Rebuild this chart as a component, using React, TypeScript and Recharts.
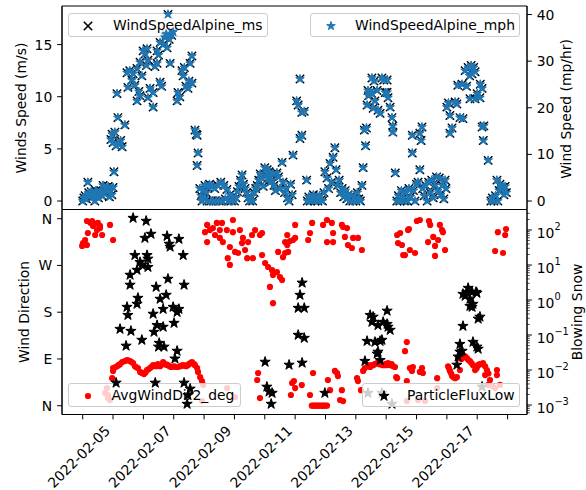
import React from 'react';
import { ScatterChart, Scatter, XAxis, YAxis, ReferenceArea } from 'recharts';

const FONT = "'DejaVu Sans', sans-serif";
const FS = 13.9;
const W = 586;
const H = 490;

// ---------- axes / ticks ----------
const xDomain: [number, number] = [3.318, 18.64];
const dayTicks = [4, 5, 6, 7, 8, 9, 10, 11, 12, 13, 14, 15, 16, 17, 18];
const labeledDays = [5, 7, 9, 11, 13, 15, 17];
const MS_TO_MPH = 2.23694;
const msDomain: [number, number] = [-0.815, 18.7];
const mphDomain: [number, number] = [msDomain[0] * MS_TO_MPH, msDomain[1] * MS_TO_MPH];
const msTicks = [0, 5, 10, 15];
const mphTicks = [0, 10, 20, 30, 40];
const dirDomain: [number, number] = [-16.9, 377.7];
const dirTicks = [0, 90, 180, 270, 360];
const dirLabels = ['N', 'E', 'S', 'W', 'N'];
const fluxDomain: [number, number] = [Math.pow(10, -3.271), Math.pow(10, 2.586)];
const fluxDecades = [-4, -3, -2, -1, 0, 1, 2];

// ---------- data: [day of Feb 2022, value] ----------
const windSpeedMs: [number, number][] = [
  [4.00,0.0],[4.04,0.3],[4.08,0.5],[4.12,0.2],[4.17,1.8],[4.20,0.8],[4.24,0.6],[4.28,0.9],[4.32,0.4],[4.36,0.7],
  [4.40,0.0],[4.44,1.0],[4.48,0.6],[4.52,0.3],[4.56,0.8],[4.60,1.0],[4.64,0.5],[4.67,1.5],[4.72,0.7],[4.76,1.2],
  [4.80,0.9],[4.84,1.4],[4.88,0.4],[4.92,1.0],[4.96,0.6],[5.00,1.3],
  [4.93,5.9],[4.97,6.4],[5.00,5.6],[5.03,2.8],[5.06,6.6],[5.10,5.3],[5.13,10.3],[5.16,8.0],[5.20,5.5],[5.25,5.8],
  [5.30,5.2],[5.39,7.3],
  [5.46,12.3],[5.49,10.9],[5.55,12.5],[5.62,11.6],[5.66,12.2],[5.72,11.1],[5.79,12.7],[5.79,9.6],[5.85,10.5],[5.89,13.3],
  [5.89,10.1],[5.95,12.0],[5.99,14.4],[6.05,14.1],[6.10,13.0],[6.12,14.6],[6.15,13.5],[6.15,9.9],[6.22,10.8],[6.32,10.4],
  [6.32,9.0],[6.38,12.9],[6.45,13.2],[6.45,14.4],[6.50,14.0],[6.55,15.2],[6.55,11.4],[6.60,11.0],[6.65,15.0],[6.71,15.7],
  [6.75,16.0],[6.78,14.7],[6.81,17.9],[6.85,15.5],[6.88,16.0],[6.88,13.2],[6.93,15.9],[6.98,16.2],[7.11,9.6],[7.14,10.4],
  [7.20,10.0],[7.27,12.5],[7.31,12.0],[7.35,12.8],[7.40,11.0],[7.47,10.8],[7.50,11.5],[7.54,13.2],[7.60,13.9],[7.60,11.3],
  [7.70,6.8],[7.74,6.4],[7.77,6.3],[7.80,4.6],[7.77,3.4],
  [7.86,1.2],[7.90,0.5],[7.93,0.0],[7.97,1.0],[8.00,0.3],[8.03,1.5],[8.07,0.8],[8.10,0.0],[8.14,1.3],[8.18,1.6],
  [8.22,0.0],[8.26,1.4],[8.30,0.0],[8.35,1.2],[8.40,0.0],[8.45,1.5],[8.50,0.0],[8.55,1.8],[8.60,0.0],[8.65,1.5],
  [8.70,0.2],[8.75,1.1],[8.80,0.0],[8.85,0.6],[8.90,0.0],[8.95,0.4],[9.00,0.0],[9.05,0.3],[9.10,0.9],[9.15,1.4],
  [9.20,2.0],[9.25,2.5],[9.30,1.6],[9.35,1.2],[9.40,0.8],[9.45,0.3],[9.50,0.0],[9.55,0.4],[9.60,0.0],[9.65,0.8],
  [9.70,1.2],[9.75,1.5],[9.80,2.0],[9.85,2.6],[9.90,2.2],[9.95,1.4],[10.00,3.2],[10.04,2.4],[10.08,3.0],[10.11,2.2],
  [10.14,2.8],[10.18,1.8],[10.22,2.0],[10.26,2.6],[10.30,1.5],[10.35,1.0],[10.40,2.7],[10.45,2.3],[10.50,1.2],[10.57,3.7],
  [10.60,1.8],[10.65,0.8],[10.70,1.2],[10.75,0.3],[10.80,0.0],[10.85,1.6],[10.90,0.6],
  [10.93,4.4],[11.05,9.6],[11.10,9.2],[11.16,11.7],[11.16,6.0],[11.22,6.3],[11.22,8.5],[11.30,8.6],[11.38,2.0],
  [11.40,0.0],[11.45,0.4],[11.50,0.0],[11.55,0.2],[11.60,0.6],[11.65,0.0],[11.70,0.3],[11.75,0.0],[11.80,0.5],[11.85,0.1],
  [11.90,0.0],[11.95,0.8],[11.98,2.8],[12.05,2.2],[12.10,1.2],[12.15,3.6],[12.20,1.8],[12.25,4.2],[12.31,5.1],[12.35,3.0],
  [12.40,1.5],[12.45,2.0],[12.50,0.8],[12.55,1.2],[12.60,0.4],[12.65,1.0],[12.70,0.2],[12.75,0.6],[12.80,0.0],[12.85,0.5],
  [12.90,0.0],[12.95,0.3],[13.00,0.0],[13.05,0.8],[13.10,0.2],[13.15,0.0],[13.20,1.5],[13.24,3.2],
  [13.28,6.8],[13.32,5.3],[13.35,7.0],[13.37,9.2],[13.40,10.6],[13.42,10.1],[13.47,10.4],[13.53,11.8],[13.53,10.3],[13.57,8.9],
  [13.60,11.5],[13.63,9.6],[13.70,10.6],[13.73,8.7],[13.80,8.4],[13.86,11.8],[13.92,11.6],[13.97,10.4],[14.03,11.6],[14.03,10.4],
  [14.06,9.9],[14.13,9.0],[14.19,8.0],[14.22,7.2],[14.22,6.6],[14.30,2.7],
  [14.35,0.0],[14.40,0.5],[14.45,0.0],[14.50,1.0],[14.55,0.3],[14.60,0.0],[14.65,0.8],[14.70,0.0],[14.75,1.2],[14.80,0.4],
  [14.86,6.3],[14.86,4.6],[14.90,1.0],[14.95,0.0],[15.00,1.6],[15.05,1.8],[15.11,3.0],[15.11,6.5],[15.15,5.8],[15.18,7.1],
  [15.20,1.2],[15.25,0.5],[15.30,1.5],[15.35,0.0],[15.40,1.8],[15.45,0.8],[15.50,2.0],[15.55,0.3],[15.60,1.5],[15.66,2.3],
  [15.70,1.0],[15.75,2.2],[15.80,0.6],[15.85,1.5],[15.90,0.2],[15.94,2.0],[15.97,1.2],
  [16.00,9.0],[16.05,9.4],[16.10,6.5],[16.10,8.2],[16.17,7.0],[16.27,9.5],[16.33,9.3],[16.36,11.1],[16.43,8.0],[16.50,11.2],
  [16.53,7.9],[16.60,12.5],[16.65,11.0],[16.70,12.8],[16.75,12.0],[16.80,13.0],[16.83,12.2],[16.88,12.8],[16.93,12.4],[16.76,9.8],
  [16.93,9.8],[17.00,10.3],[17.09,9.9],[17.10,11.2],[17.16,10.8],[17.16,7.1],[17.20,5.8],[17.22,7.2],[17.36,3.9],
  [17.45,0.0],[17.50,0.3],[17.55,0.0],[17.60,0.5],[17.65,2.0],[17.68,0.0],[17.72,1.0],[17.75,1.6],[17.80,1.2],[17.85,1.3],
  [17.88,0.6],[17.92,1.4],[17.96,0.8],
];

const windDirDeg: [number, number][] = [
  [4.14,355.6],[4.31,355.6],[4.50,351.8],[4.57,346],[4.34,346],[4.47,338],[4.57,342],[4.90,348],[4.17,332.5],[4.41,328.6],
  [4.64,328.6],[5.00,319],[4.08,319],[4.01,313],[3.98,307.5],[4.14,309.4],[4.25,352],[4.40,350],
  [4.97,53],[5.00,67],[5.00,72.6],[5.07,74],[5.13,76],[5.18,78],[5.23,80],[5.30,84],[5.39,86],[5.46,88],[5.51,87],[5.56,86],
  [5.61,84],[5.66,82],[5.72,76],[5.77,74],[5.82,72.6],[5.89,65],[5.95,63],[6.02,61],[6.07,64],[6.12,68.7],[6.17,70],[6.22,72.6],
  [6.27,75],[6.32,78],[6.37,77],[6.42,76],[6.48,80],[6.55,76],[6.60,79],[6.65,84],[6.71,80],[6.76,79],[6.81,78],[6.86,76],
  [6.91,74.5],[6.96,75],[7.01,76],[7.06,75],[7.11,74.5],[7.16,75],[7.21,76],[7.26,77],[7.31,78],[7.36,77],[7.41,76],[7.46,78],
  [7.50,80],[7.55,82],[7.60,84],[7.67,80],[7.70,78],[7.77,72.6],[7.80,65],[7.87,55],[7.93,47.5],[7.97,40],
  [4.74,24.4],[4.83,15],[4.90,11],[4.80,34],[4.83,20.6],[7.93,9],[8.76,34],[9.02,16.7],
  [8.03,334],[8.10,348],[8.10,315],[8.19,338],[8.29,342],[8.36,328.6],[8.42,351.8],[8.52,338],[8.52,323],[8.59,351.8],
  [8.62,315],[8.75,338],[8.78,284],[8.85,305.5],[8.85,271],[8.95,357.5],[8.95,334],[9.02,296],[9.12,294],[9.18,338],
  [9.25,313],[9.28,323],[9.35,299.7],[9.42,284],[9.45,315],[9.58,328.6],[9.61,284],[9.68,338],[9.84,328.6],[9.91,290],
  [9.91,332.5],[10.01,274.7],[10.11,267],[10.24,261],[10.27,251.6],[10.40,257],[10.50,247.7],[10.57,242],[10.17,228.6],[10.27,197.4],
  [10.44,296],[10.60,286],[10.67,294],[10.74,309.4],[10.77,296],[10.83,317],[10.93,319],[11.00,323],[11.00,348],[10.67,315],[10.74,328.6],
  [11.43,319],[11.56,351.8],[11.92,348],[12.05,357.5],[12.21,351.8],[12.25,332.5],[12.05,315],[12.25,315],[12.54,348],[12.58,344],
  [12.71,342],[12.64,325],[12.74,309.4],[12.87,303.6],[12.91,323],[13.07,323],[13.20,299.7],[11.49,332.5],
  [9.78,63],[9.75,49.5],[9.84,14.8],[10.90,43.7],[10.96,47.5],[11.00,34],[10.86,20.6],[11.22,39.8],[11.49,20.6],[11.59,63],
  [11.55,0],[11.60,0],[11.65,0],[11.70,0],[11.75,0],[11.80,0],[11.85,0],[11.90,0],[11.95,0],[12.00,0],[12.05,0],
  [12.08,49.5],[12.15,30],[12.31,67],[12.38,63],[12.41,57],[12.54,30],[12.48,11],[12.58,9],[13.04,53],[13.07,47.5],
  [13.17,30],[13.24,67],[13.30,72.6],
  [13.40,78],[13.43,76],[13.47,74.5],[13.50,77],[13.53,78],[13.57,78],[13.62,80],[13.70,82],[13.73,82],[13.78,80],[13.85,79],
  [13.90,78],[13.97,80],[14.00,78],[14.06,82],[14.13,78],[14.18,80],[14.23,76],[14.29,74.5],[14.33,55],[14.36,53],
  [14.62,105],[14.68,122.6],[14.78,72.6],[14.88,74.5],[14.85,67],[15.11,65],[15.18,72.6],[15.21,63],[15.68,53],[15.68,34],
  [14.68,47.5],[14.68,9],[15.05,11],[15.28,9],
  [14.36,328.6],[14.46,332.5],[14.39,313],[14.52,309.4],[14.56,290],[14.78,299.7],[14.95,294],[14.75,340],[15.01,355.6],[15.11,357.5],
  [15.41,355.6],[15.45,348],[15.38,315],[15.55,325],[15.61,307.5],[15.71,319],[15.77,348],[15.84,338],[15.87,334],[15.94,299.7],
  [15.61,288.3],[14.62,290],[14.72,338],
  [16.04,76],[16.07,72],[16.10,67],[16.14,62],[16.17,57],[16.22,55],[16.27,53],[16.33,55],[16.43,68.7],[16.37,91.6],[16.48,90],
  [16.53,97.4],[16.60,95],[16.66,91.6],[16.71,88],[16.76,85.8],[16.81,82],[16.86,78],[16.93,68.7],[16.98,72],[17.03,78],[17.08,80],
  [17.13,80],[17.19,82],[17.26,76],[17.32,68.7],[17.26,59],[17.37,62],[17.42,49.5],[17.65,68.7],[17.65,59],
  [17.36,40],[17.49,38],[17.59,34],[17.75,40],
  [17.59,297.8],[17.68,334],[17.85,294],[17.92,328.6],[17.95,340],
];

const particleFlux: [number, number][] = [
  [5.66,220],[6.09,181],[6.05,59],[6.25,77],[6.78,67],[7.17,55],[6.85,40],[6.88,33],[7.31,19],[5.72,19],
  [6.12,19],[6.15,15],[5.89,12],[5.95,10],[6.15,8.7],[5.79,7.2],[5.56,5.2],[6.81,4.0],[5.56,2.7],[6.42,2.35],
  [7.34,2.7],[6.75,1.39],[6.55,1.07],[5.82,1.14],[5.79,0.77],[5.46,0.63],[6.65,0.55],[6.98,0.63],[7.17,0.55],[7.11,0.45],
  [5.49,0.37],[6.32,0.40],[6.45,0.19],[6.65,0.17],[7.01,0.22],[5.23,0.148],[6.35,0.122],[5.59,0.13],[5.95,0.072],[5.43,0.049],
  [6.52,0.059],[6.50,0.046],[6.68,0.046],[7.11,0.035],[7.04,0.021],[5.10,0.0043],[6.39,0.0043],[7.34,0.0043],[7.54,0.0029],
  [7.47,0.0019],[7.44,0.00107],
  [10.01,0.017],[10.07,0.0033],[10.14,0.0024],[10.24,0.0022],[10.21,0.00107],[10.80,0.014],[11.23,3.1],[11.16,1.39],[11.10,0.59],
  [11.30,0.59],[11.10,0.1],[11.30,0.082],[11.23,0.016],[11.98,0.0022],
  [13.47,0.37],[13.53,0.235],[13.73,0.19],[13.57,0.33],[14.03,0.49],[13.90,0.235],[14.03,0.205],[14.13,0.139],[14.06,0.17],
  [13.37,0.067],[13.63,0.063],[13.80,0.067],[13.86,0.072],[13.70,0.029],[13.73,0.033],[13.80,0.019],[13.30,0.018],[13.86,0.0022],
  [13.40,0.0022],[14.19,0.00107],
  [16.70,2.2],[16.66,1.69],[16.83,1.69],[16.60,1.30],[16.99,1.58],[16.76,1.07],[16.86,0.77],[16.83,0.63],[16.53,1.48],[16.96,1.69],
  [16.76,0.67],[17.03,0.29],[17.09,0.33],[16.53,0.18],[16.43,0.055],[16.50,0.035],[16.37,0.024],[16.33,0.014],[16.86,0.063],
  [16.99,0.046],[17.03,0.04],[16.43,0.033],[17.16,0.0033],
];

const msData = windSpeedMs.map(([x, y]) => ({ x, y }));
const mphData = windSpeedMs.map(([x, y]) => ({ x, y: y * MS_TO_MPH }));
const dirData = windDirDeg.map(([x, y]) => ({ x, y }));
const fluxData = particleFlux.map(([x, y]) => ({ x, y }));

const fluxTicks: number[] = [];
fluxDecades.forEach((e) => {
  for (let m = 1; m <= 9; m++) {
    const v = m * Math.pow(10, e);
    if (v >= fluxDomain[0] && v <= fluxDomain[1]) fluxTicks.push(v);
  }
});

// ---------- marker shapes ----------
const starD = (cx: number, cy: number, R: number) => {
  const r = R * 0.382;
  let d = '';
  for (let i = 0; i < 10; i++) {
    const rad = i % 2 === 0 ? R : r;
    const a = -Math.PI / 2 + (i * Math.PI) / 5;
    d += (i === 0 ? 'M' : 'L') + (cx + rad * Math.cos(a)).toFixed(2) + ',' + (cy + rad * Math.sin(a)).toFixed(2);
  }
  return d + 'Z';
};
const xD = (cx: number, cy: number, s: number) =>
  `M${cx - s},${cy - s}L${cx + s},${cy + s}M${cx - s},${cy + s}L${cx + s},${cy - s}`;

const XShape = (p: any) => <path d={xD(p.cx, p.cy, 4.2)} stroke="#000" strokeWidth={1.4} fill="none" />;
const BlueStar = (p: any) => <path d={starD(p.cx, p.cy, 4.5)} fill="#1f77b4" stroke="#1f77b4" strokeWidth={1} />;
const BlackStar = (p: any) => <path d={starD(p.cx, p.cy, 5.4)} fill="#000" stroke="#000" strokeWidth={1} />;
const RedDot = (p: any) => <circle cx={p.cx} cy={p.cy} r={3.1} fill="#ff0000" />;

// ---------- ticks ----------
const TL = 4.86;
const PAD = 9.72;
const txt = { fontFamily: FONT, fontSize: FS, fill: '#000' } as const;

const LeftTick = (fmt: (v: number) => string) => (p: any) => (
  <g>
    <line x1={p.x} x2={p.x - TL} y1={p.y} y2={p.y} stroke="#000" strokeWidth={1} />
    <text x={p.x - PAD} y={p.y} textAnchor="end" dominantBaseline="central" {...txt}>{fmt(p.payload.value)}</text>
  </g>
);
const RightTick = (p: any) => (
  <g>
    <line x1={p.x} x2={p.x + TL} y1={p.y} y2={p.y} stroke="#000" strokeWidth={1} />
    <text x={p.x + PAD} y={p.y} textAnchor="start" dominantBaseline="central" {...txt}>{String(p.payload.value)}</text>
  </g>
);
const LogTick = (p: any) => {
  const v = p.payload.value as number;
  const lg = Math.log10(v);
  const e = Math.round(lg);
  const major = Math.abs(lg - e) < 1e-6;
  return (
    <g>
      <line x1={p.x} x2={p.x + (major ? TL : 2.8)} y1={p.y} y2={p.y} stroke="#000" strokeWidth={major ? 1 : 0.7} />
      {major && (
        <text x={p.x + PAD} y={p.y + 2.6} dominantBaseline="central" {...txt}>
          10
          <tspan dy={-6.5} fontSize={9.8}>{e < 0 ? '\u2212' + -e : String(e)}</tspan>
        </text>
      )}
    </g>
  );
};
const DateTick = (p: any) => {
  const d = p.payload.value as number;
  const show = labeledDays.includes(d);
  return (
    <g>
      <line x1={p.x} x2={p.x} y1={p.y} y2={p.y + TL} stroke="#000" strokeWidth={1} />
      {show && (
        <text transform={`translate(${p.x - 2.1},${p.y + 17.2}) rotate(-45)`} textAnchor="end" {...txt}>
          {`2022-02-${String(d).padStart(2, '0')}`}
        </text>
      )}
    </g>
  );
};

const axisLabel = (text: string, x: number, y: number) => ({
  content: () => (
    <text transform={`translate(${x},${y}) rotate(-90)`} textAnchor="middle" dominantBaseline="central" {...txt}>
      {text}
    </text>
  ),
});

// ---------- legends ----------
const legendBox = (left: number, top: number, width: number, height: number): React.CSSProperties => ({
  position: 'absolute',
  left,
  top,
  width,
  height,
  boxSizing: 'border-box',
  border: '1px solid #cccccc',
  borderRadius: 3,
  background: 'rgba(255,255,255,0.8)',
});
const LegendItem = ({ left, top, width, height, mx, tx, label, marker }: any) => (
  <div style={legendBox(left, top, width, height)}>
    <svg width={20} height={20} style={{ position: 'absolute', left: mx - 11, top: height / 2 - 11 }}>
      {marker}
    </svg>
    <span
      style={{
        position: 'absolute',
        left: tx - 1,
        top: 0,
        height: height - 2,
        lineHeight: `${height - 2}px`,
        fontFamily: FONT,
        fontSize: FS,
        color: '#000',
        whiteSpace: 'nowrap',
      }}
    >
      {label}
    </span>
  </div>
);

const layer: React.CSSProperties = { position: 'absolute', left: 0, top: 0 };

export default function App() {
  return (
    <div style={{ position: 'absolute', left: 0, top: 0, width: W, height: H, background: '#fff', overflow: 'hidden' }}>
      {/* top panel, left axis: m/s */}
      <div style={layer}>
        <ScatterChart width={W} height={H} margin={{ top: 6, right: 59, bottom: 280.5, left: 0 }}>
          <XAxis type="number" dataKey="x" domain={xDomain} hide allowDataOverflow />
          <YAxis
            type="number"
            dataKey="y"
            width={62}
            domain={msDomain}
            ticks={msTicks}
            interval={0}
            allowDataOverflow
            tickSize={0}
            tickMargin={0}
            tickLine={false}
            axisLine={{ stroke: '#000' }}
            tick={LeftTick((v) => String(v))}
            label={axisLabel('Winds Speed (m/s)', 21, 108)}
          />
          <ReferenceArea x1={xDomain[0]} x2={xDomain[1]} y1={msDomain[0]} y2={msDomain[1]} fill="none" stroke="#000" strokeWidth={1} ifOverflow="visible" />
          <Scatter data={msData} dataKey="y" shape={XShape} isAnimationActive={false} />
        </ScatterChart>
      </div>
      <LegendItem left={68} top={13} width={200} height={24} mx={19} tx={45} label="WindSpeedAlpine_ms"
        marker={<path d={xD(11, 11, 4.2)} stroke="#000" strokeWidth={1.6} fill="none" />} />
      {/* top panel, right axis: mph */}
      <div style={layer}>
        <ScatterChart width={W} height={H} margin={{ top: 6, right: 0, bottom: 280.5, left: 62 }}>
          <XAxis type="number" dataKey="x" domain={xDomain} hide allowDataOverflow />
          <YAxis
            type="number"
            dataKey="y"
            orientation="right"
            width={59}
            domain={mphDomain}
            ticks={mphTicks}
            interval={0}
            allowDataOverflow
            tickSize={0}
            tickMargin={0}
            tickLine={false}
            axisLine={{ stroke: '#000' }}
            tick={RightTick}
            label={axisLabel('Wind Speed (mp/hr)', 565.5, 109)}
          />
          <Scatter data={mphData} dataKey="y" shape={BlueStar} isAnimationActive={false} />
        </ScatterChart>
      </div>
      <LegendItem left={310} top={13} width={210} height={24} mx={20} tx={45} label="WindSpeedAlpine_mph"
        marker={<path d={starD(11, 11, 4.5)} fill="#1f77b4" stroke="#1f77b4" strokeWidth={1} />} />

      {/* bottom panel, left axis: wind direction */}
      <div style={layer}>
        <ScatterChart width={W} height={H} margin={{ top: 209.5, right: 59, bottom: 0, left: 0 }}>
          <XAxis
            type="number"
            dataKey="x"
            domain={xDomain}
            ticks={dayTicks}
            interval={0}
            height={75.5}
            allowDataOverflow
            tickSize={0}
            tickMargin={0}
            tickLine={false}
            axisLine={{ stroke: '#000' }}
            tick={DateTick}
          />
          <YAxis
            type="number"
            dataKey="y"
            width={62}
            domain={dirDomain}
            ticks={dirTicks}
            interval={0}
            allowDataOverflow
            tickSize={0}
            tickMargin={0}
            tickLine={false}
            axisLine={{ stroke: '#000' }}
            tick={LeftTick((v) => dirLabels[dirTicks.indexOf(v)] ?? '')}
            label={axisLabel('Wind Direction', 23.5, 312)}
          />
          <ReferenceArea x1={xDomain[0]} x2={xDomain[1]} y1={dirDomain[0]} y2={dirDomain[1]} fill="none" stroke="#000" strokeWidth={1} ifOverflow="visible" />
          <Scatter data={dirData} dataKey="y" shape={RedDot} isAnimationActive={false} />
        </ScatterChart>
      </div>
      <LegendItem left={68} top={383} width={172.5} height={24} mx={19} tx={43.5} label="AvgWindDir2_deg"
        marker={<circle cx={11} cy={11} r={3.1} fill="#ff0000" />} />
      {/* bottom panel, right axis: particle flux (log) */}
      <div style={layer}>
        <ScatterChart width={W} height={H} margin={{ top: 209.5, right: 0, bottom: 75.5, left: 62 }}>
          <XAxis type="number" dataKey="x" domain={xDomain} hide allowDataOverflow />
          <YAxis
            type="number"
            dataKey="y"
            orientation="right"
            scale="log"
            width={59}
            domain={fluxDomain}
            ticks={fluxTicks}
            interval={0}
            allowDataOverflow
            tickSize={0}
            tickMargin={0}
            tickLine={false}
            axisLine={{ stroke: '#000' }}
            tick={LogTick}
            label={axisLabel('Blowing Snow', 577, 312)}
          />
          <Scatter data={fluxData} dataKey="y" shape={BlackStar} isAnimationActive={false} />
        </ScatterChart>
      </div>
      <LegendItem left={362} top={383} width={158} height={24} mx={21} tx={45} label="ParticleFluxLow"
        marker={<path d={starD(11, 11, 5.4)} fill="#000" stroke="#000" strokeWidth={1} />} />
    </div>
  );
}
